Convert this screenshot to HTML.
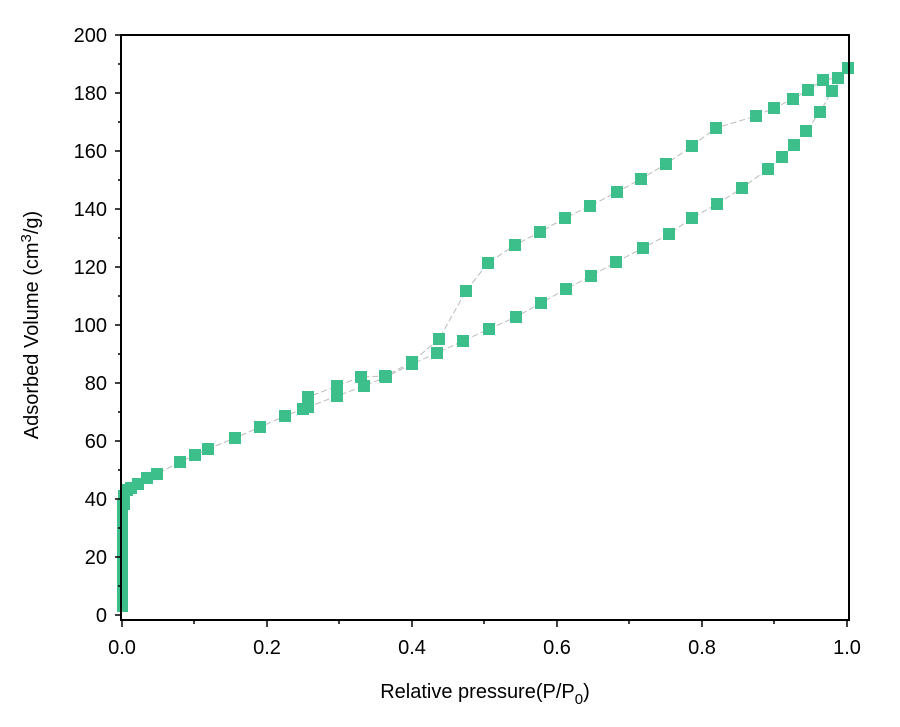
<!DOCTYPE html>
<html><head><style>body{margin:0;background:#fff}svg{display:block}</style></head><body>
<svg width="900" height="727" xmlns="http://www.w3.org/2000/svg" style="font-family:'Liberation Sans',sans-serif">
<rect width="900" height="727" fill="#fff"/>
<g stroke="#bbb" stroke-width="1" stroke-dasharray="6,3" fill="none">
<polyline points="122,608 122,590 123,570 123,550 124,530 125,515 126,505 127,495 131,488 138,484 147,478 157,474 180,462 195,455 208,449 235,438 260,427 285,416 303,409 308,407 337,396 364,386 386,377 412,364 437,353 463,341 489,329 516,317 541,303 566,289 591,276 616,262 643,248 669,234 692,218 717,204 742,188 768,169 782,157 794,145 806,131 820,112 832,91 848,68"/>
<polyline points="848,68 838,78 823,80 808,90 793,99 774,108 756,116 716,128 692,146 666,164 641,179 617,192 590,206 565,218 540,232 515,245 488,263 466,291 439,339 412,362 385,376 361,377 337,386 308,397"/>
</g>
<g fill="#3dbf8c">
<rect x="117" y="500" width="11" height="112"/>
<rect x="118" y="490" width="12" height="20"/>
<rect x="121" y="484" width="12" height="12"/><rect x="125" y="482" width="12" height="12"/><rect x="132" y="478" width="12" height="12"/><rect x="141" y="472" width="12" height="12"/><rect x="151" y="468" width="12" height="12"/><rect x="174" y="456" width="12" height="12"/><rect x="189" y="449" width="12" height="12"/><rect x="202" y="443" width="12" height="12"/><rect x="229" y="432" width="12" height="12"/><rect x="254" y="421" width="12" height="12"/><rect x="279" y="410" width="12" height="12"/><rect x="297" y="403" width="12" height="12"/><rect x="302" y="401" width="12" height="12"/><rect x="331" y="390" width="12" height="12"/><rect x="358" y="380" width="12" height="12"/><rect x="380" y="371" width="12" height="12"/><rect x="406" y="358" width="12" height="12"/><rect x="431" y="347" width="12" height="12"/><rect x="457" y="335" width="12" height="12"/><rect x="483" y="323" width="12" height="12"/><rect x="510" y="311" width="12" height="12"/><rect x="535" y="297" width="12" height="12"/><rect x="560" y="283" width="12" height="12"/><rect x="585" y="270" width="12" height="12"/><rect x="610" y="256" width="12" height="12"/><rect x="637" y="242" width="12" height="12"/><rect x="663" y="228" width="12" height="12"/><rect x="686" y="212" width="12" height="12"/><rect x="711" y="198" width="12" height="12"/><rect x="736" y="182" width="12" height="12"/><rect x="762" y="163" width="12" height="12"/><rect x="776" y="151" width="12" height="12"/><rect x="788" y="139" width="12" height="12"/><rect x="800" y="125" width="12" height="12"/><rect x="814" y="106" width="12" height="12"/><rect x="826" y="85" width="12" height="12"/><rect x="842" y="62" width="12" height="12"/>
<rect x="832" y="72" width="12" height="12"/><rect x="817" y="74" width="12" height="12"/><rect x="802" y="84" width="12" height="12"/><rect x="787" y="93" width="12" height="12"/><rect x="768" y="102" width="12" height="12"/><rect x="750" y="110" width="12" height="12"/><rect x="710" y="122" width="12" height="12"/><rect x="686" y="140" width="12" height="12"/><rect x="660" y="158" width="12" height="12"/><rect x="635" y="173" width="12" height="12"/><rect x="611" y="186" width="12" height="12"/><rect x="584" y="200" width="12" height="12"/><rect x="559" y="212" width="12" height="12"/><rect x="534" y="226" width="12" height="12"/><rect x="509" y="239" width="12" height="12"/><rect x="482" y="257" width="12" height="12"/><rect x="460" y="285" width="12" height="12"/><rect x="433" y="333" width="12" height="12"/><rect x="406" y="356" width="12" height="12"/><rect x="379" y="370" width="12" height="12"/><rect x="355" y="371" width="12" height="12"/><rect x="331" y="380" width="12" height="12"/><rect x="302" y="391" width="12" height="12"/>
</g>
<rect x="121" y="35" width="728" height="585" fill="none" stroke="#000" stroke-width="2"/>
<g stroke="#000" stroke-width="1.5">
<line x1="115" y1="615" x2="121" y2="615"/><line x1="115" y1="557" x2="121" y2="557"/><line x1="115" y1="499" x2="121" y2="499"/><line x1="115" y1="441" x2="121" y2="441"/><line x1="115" y1="383" x2="121" y2="383"/><line x1="115" y1="325" x2="121" y2="325"/><line x1="115" y1="267" x2="121" y2="267"/><line x1="115" y1="209" x2="121" y2="209"/><line x1="115" y1="151" x2="121" y2="151"/><line x1="115" y1="93" x2="121" y2="93"/><line x1="115" y1="35" x2="121" y2="35"/>
<line x1="118" y1="586" x2="121" y2="586"/><line x1="118" y1="528" x2="121" y2="528"/><line x1="118" y1="470" x2="121" y2="470"/><line x1="118" y1="412" x2="121" y2="412"/><line x1="118" y1="354" x2="121" y2="354"/><line x1="118" y1="296" x2="121" y2="296"/><line x1="118" y1="238" x2="121" y2="238"/><line x1="118" y1="180" x2="121" y2="180"/><line x1="118" y1="122" x2="121" y2="122"/><line x1="118" y1="64" x2="121" y2="64"/>
<line x1="122" y1="620" x2="122" y2="627"/><line x1="267" y1="620" x2="267" y2="627"/><line x1="412" y1="620" x2="412" y2="627"/><line x1="557" y1="620" x2="557" y2="627"/><line x1="702" y1="620" x2="702" y2="627"/><line x1="847" y1="620" x2="847" y2="627"/>
<line x1="194" y1="620" x2="194" y2="624"/><line x1="339" y1="620" x2="339" y2="624"/><line x1="484" y1="620" x2="484" y2="624"/><line x1="629" y1="620" x2="629" y2="624"/><line x1="774" y1="620" x2="774" y2="624"/>
</g>
<g style="font-size:20px" text-anchor="end">
<text x="107" y="622">0</text><text x="107" y="564">20</text><text x="107" y="506">40</text><text x="107" y="448">60</text><text x="107" y="390">80</text><text x="107" y="332">100</text><text x="107" y="274">120</text><text x="107" y="216">140</text><text x="107" y="158">160</text><text x="107" y="100">180</text><text x="107" y="42">200</text>
</g>
<g style="font-size:20px" text-anchor="middle">
<text x="122" y="654">0.0</text><text x="267" y="654">0.2</text><text x="412" y="654">0.4</text><text x="557" y="654">0.6</text><text x="702" y="654">0.8</text><text x="847" y="654">1.0</text>
<text x="485" y="698">Relative pressure(P/P<tspan style="font-size:15px" dy="6">0</tspan><tspan dy="-6">)</tspan></text>
<text transform="translate(38,325) rotate(-90)">Adsorbed Volume (cm<tspan style="font-size:15px" dy="-7">3</tspan><tspan dy="7">/g)</tspan></text>
</g>
</svg>
</body></html>
